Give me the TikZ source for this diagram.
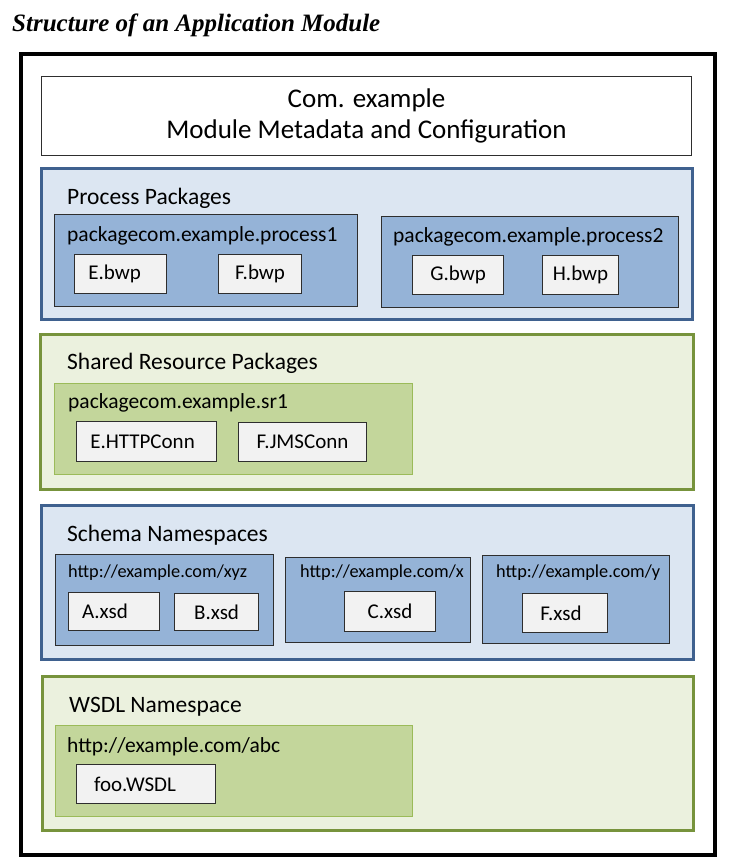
\documentclass[tikz,border=0pt]{standalone}
\usepackage{fontspec}
\newfontfamily\calfont{Carlito}
\newfontfamily\titlefont{Liberation Serif}
\definecolor{bluebd}{HTML}{3F618F}
\definecolor{bluebg}{HTML}{DCE6F2}
\definecolor{bluein}{HTML}{95B3D7}
\definecolor{greenbd}{HTML}{77933C}
\definecolor{greenbg}{HTML}{EBF1DE}
\definecolor{greenin}{HTML}{C3D69B}
\definecolor{greeninbd}{HTML}{9BBB59}
\definecolor{itembg}{HTML}{F2F2F2}
\definecolor{darkbd}{HTML}{2E2E2E}
\tikzset{
  box/.style={rectangle, anchor=north west, inner sep=0pt, font=\calfont\fontsize{21}{24}\selectfont},
  bluesec/.style={box, draw=bluebd, fill=bluebg, line width=3pt},
  greensec/.style={box, draw=greenbd, fill=greenbg, line width=3pt},
  bluepkg/.style={box, draw=darkbd, fill=bluein, line width=1.1pt},
  greenpkg/.style={box, draw=greeninbd, fill=greenin, line width=1.1pt},
  item/.style={box, draw=darkbd, fill=itembg, line width=1.1pt},
  seclbl/.style={anchor=west, inner sep=0pt, font=\calfont\fontsize{23.5}{26}\selectfont},
  lbl/.style={anchor=west, inner sep=0pt, font=\calfont\fontsize{21.5}{24}\selectfont},
  urllbl/.style={anchor=west, inner sep=0pt, font=\calfont\fontsize{18.3}{21}\selectfont},
}
\begin{document}
\begin{tikzpicture}[x=1pt,y=-1pt]
\useasboundingbox (0,0) rectangle (728,867);
% title
\node[anchor=west, inner sep=0pt, font=\titlefont\fontsize{25}{28}\selectfont\bfseries\itshape] (title) at (12,25) {Structure of an Application Module};
% outer frame
\node[box, draw=black, line width=4pt, minimum width=694pt, minimum height=801pt] (frame) at (19,52) {};
% metadata
\node[box, draw=darkbd, fill=white, line width=1pt, minimum width=650pt, minimum height=79pt, align=center, font=\calfont\fontsize{27}{31}\selectfont] (meta) at (41,76) {Com. example\\Module Metadata and Configuration};
% process packages
\node[bluesec, minimum width=651pt, minimum height=151pt] (proc) at (40,167) {};
\node[seclbl] (procl) at (67,198) {Process Packages};
\node[bluepkg, minimum width=303pt, minimum height=92pt] (p1) at (54,214) {};
\node[lbl] (p1l) at (67,236) {packagecom.example.process1};
\node[item, minimum width=92pt, minimum height=39pt] (ebwp) at (74,254) {E.bwp\kern12pt};
\node[item, minimum width=83pt, minimum height=39pt] (fbwp) at (218,254) {F.bwp};
\node[bluepkg, minimum width=297pt, minimum height=91pt] (p2) at (381,216) {};
\node[lbl] (p2l) at (393,237) {packagecom.example.process2};
\node[item, minimum width=91pt, minimum height=39pt] (gbwp) at (412,255) {G.bwp};
\node[item, minimum width=76pt, minimum height=39pt] (hbwp) at (542,255) {H.bwp};
% shared resources
\node[greensec, minimum width=653pt, minimum height=155pt] (shared) at (39,333) {};
\node[seclbl] (sharedl) at (67,363) {Shared Resource Packages};
\node[greenpkg, minimum width=358pt, minimum height=91pt] (sr1) at (54,383) {};
\node[lbl] (sr1l) at (68,403) {packagecom.example.sr1};
\node[item, minimum width=140pt, minimum height=40pt] (http) at (76,421) {E.HTTPConn\kern8pt};
\node[item, minimum width=128pt, minimum height=39pt] (jms) at (238,422) {F.JMSConn};
% schema namespaces
\node[bluesec, minimum width=652pt, minimum height=154pt] (schema) at (40,504) {};
\node[seclbl] (schemal) at (67,535) {Schema Namespaces};
\node[bluepkg, minimum width=218pt, minimum height=91pt] (xyz) at (55,554) {};
\node[urllbl] (xyzl) at (68,573) {http://example.com/xyz};
\node[item, minimum width=91pt, minimum height=38pt] (axsd) at (68,592) {A.xsd\kern18pt};
\node[item, minimum width=84pt, minimum height=37pt] (bxsd) at (174,593) {B.xsd};
\node[bluepkg, minimum width=185pt, minimum height=85pt] (nsx) at (285,557) {};
\node[urllbl] (nsxl) at (300,573) {http://example.com/x};
\node[item, minimum width=91pt, minimum height=40pt] (cxsd) at (344,591) {C.xsd};
\node[bluepkg, minimum width=187pt, minimum height=88pt] (nsy) at (482,555) {};
\node[urllbl] (nsyl) at (496,573) {http://example.com/y};
\node[item, minimum width=85pt, minimum height=39pt] (fxsd) at (522,593) {F.xsd\kern8pt};
% wsdl
\node[greensec, minimum width=651pt, minimum height=154pt] (wsdl) at (41,675) {};
\node[seclbl] (wsdll) at (69,707) {WSDL Namespace};
\node[greenpkg, minimum width=357pt, minimum height=91pt] (abc) at (55,725) {};
\node[lbl] (abcl) at (67,747) {http://example.com/abc};
\node[item, minimum width=139pt, minimum height=39pt] (foo) at (76,764) {foo.WSDL\kern22pt};
\end{tikzpicture}
\end{document}
